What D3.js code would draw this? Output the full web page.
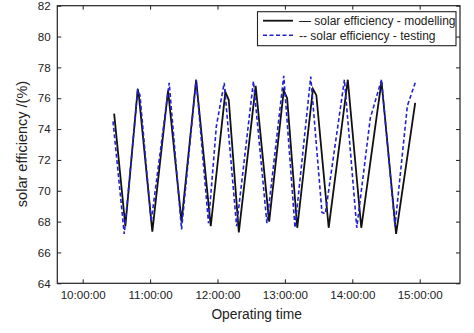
<!DOCTYPE html>
<html>
<head>
<meta charset="utf-8">
<script src="https://cdn.jsdelivr.net/npm/d3@7/dist/d3.min.js"></script>
<style>
  html, body { margin: 0; padding: 0; background: #fff; }
  svg { display: block; font-family: "Liberation Sans", Arial, sans-serif; }
</style>
</head>
<body>
<svg id="chart" width="474" height="333"></svg>
<script>
// Solar efficiency over operating time: model vs. measured
const modelTimes = ["10:28","10:38","10:49","10:50","11:02","11:16","11:28","11:41","11:54","12:07","12:10","12:19","12:34","12:46","12:59","13:02","13:11","13:25","13:28","13:39","13:56","14:08","14:26","14:39","14:56"];
const modelValues = [75.0,67.7,76.6,76.2,67.35,76.5,68.0,77.2,67.7,76.4,75.9,67.3,76.8,68.0,76.5,76.0,67.6,76.6,76.2,67.6,77.2,67.6,77.1,67.2,75.7];

const testTimes = ["10:27","10:37","10:49","10:51","11:01","11:17","11:28","11:41","11:52","11:59","12:06","12:17","12:32","12:44","12:59","13:09","13:23","13:33","13:36","13:53","14:04","14:16","14:26","14:38","14:49","14:56"];
const testValues = [74.5,67.2,76.5,76.2,68.0,77.0,67.5,77.2,67.9,74.2,77.0,67.7,77.1,67.9,77.45,67.6,77.4,68.6,68.5,77.2,67.6,74.7,77.2,67.7,75.5,77.0];

const xTickLabels = ["10:00:00","11:00:00","12:00:00","13:00:00","14:00:00","15:00:00"];
const yTicks = [64,66,68,70,72,74,76,78,80,82];
const xDomain = ["09:37:24","15:35:53"];
const yDomain = [64, 82];

const seriesNames = ["\u2014 solar efficiency - modelling", "-- solar efficiency - testing"];

const parseHM = d3.timeParse("%H:%M");
const parseHMS = d3.timeParse("%H:%M:%S");

const svg = d3.select("#chart");
const margin = {left: 57.3, top: 5.7, right: 474 - 460, bottom: 333 - 283.3};
const W = 474 - margin.left - margin.right;
const H = 333 - margin.top - margin.bottom;

const g = svg.append("g").attr("transform", `translate(${margin.left},${margin.top})`);

const x = d3.scaleTime().domain(xDomain.map(parseHMS)).range([0, W]);
const y = d3.scaleLinear().domain(yDomain).range([H, 0]);

const axisColor = "#222";
const tickFont = "11.6px";

// Bottom axis with inward ticks
const xTickDates = xTickLabels.map(parseHMS);
const fmt = d3.timeFormat("%H:%M:%S");
const xb = g.append("g").attr("transform", `translate(0,${H})`)
  .call(d3.axisBottom(x).tickValues(xTickDates).tickFormat(fmt).tickSize(-4).tickPadding(7.5));
// Top mirrored ticks
const xt = g.append("g")
  .call(d3.axisTop(x).tickValues(xTickDates).tickFormat("").tickSize(-4));
// Left axis
const yl = g.append("g")
  .call(d3.axisLeft(y).tickValues(yTicks).tickFormat(d3.format("d")).tickSize(-4).tickPadding(6.6));
// Right mirrored ticks
const yr = g.append("g").attr("transform", `translate(${W},0)`)
  .call(d3.axisRight(y).tickValues(yTicks).tickFormat("").tickSize(-4));

[xb, xt, yl, yr].forEach(a => {
  a.select(".domain").remove();
  a.selectAll(".tick line").attr("stroke", axisColor).attr("stroke-width", 1);
  a.selectAll(".tick text").attr("fill", axisColor).style("font-size", tickFont)
    .style("font-family", "'Liberation Sans', Arial, sans-serif");
});

// Series lines
const line = d3.line().x(d => x(d.t)).y(d => y(d.v));
const modelData = modelTimes.map((t, i) => ({t: parseHM(t), v: modelValues[i]}));
const testData = testTimes.map((t, i) => ({t: parseHM(t), v: testValues[i]}));

g.append("path").datum(modelData)
  .attr("d", line).attr("fill", "none")
  .attr("stroke", "#111").attr("stroke-width", 1.8).attr("stroke-linejoin", "miter");

g.append("path").datum(testData)
  .attr("d", line).attr("fill", "none")
  .attr("stroke", "#2222d4").attr("stroke-width", 1.6)
  .attr("stroke-dasharray", "4,2.5");

// Plot frame
g.append("rect").attr("x", 0).attr("y", 0).attr("width", W).attr("height", H)
  .attr("fill", "none").attr("stroke", axisColor).attr("stroke-width", 1.2);

// Legend
const lg = svg.append("g");
lg.append("rect").attr("x", 257.5).attr("y", 11.7).attr("width", 198.5).attr("height", 34)
  .attr("fill", "#fff").attr("stroke", axisColor).attr("stroke-width", 1.1);
const legendRows = [
  {name: seriesNames[0], color: "#111", dash: null, w: 1.8, y: 20.7},
  {name: seriesNames[1], color: "#2222d4", dash: "4,2.5", w: 1.6, y: 35.3}
];
legendRows.forEach(r => {
  lg.append("line").attr("x1", 263).attr("x2", 293).attr("y1", r.y).attr("y2", r.y)
    .attr("stroke", r.color).attr("stroke-width", r.w)
    .attr("stroke-dasharray", r.dash);
  lg.append("text").attr("x", 299).attr("y", r.y).attr("dy", "0.35em")
    .attr("fill", axisColor).style("font-size", "12px").text(r.name);
});

// Axis titles
svg.append("text").attr("x", margin.left + W / 2 - 2).attr("y", 314).attr("dy", "0.35em")
  .attr("text-anchor", "middle").attr("fill", axisColor).style("font-size", "13.8px")
  .text("Operating time");
svg.append("text")
  .attr("transform", `translate(21.7,${144}) rotate(-90)`)
  .attr("dy", "0.35em").attr("text-anchor", "middle")
  .attr("fill", axisColor).style("font-size", "14.5px")
  .text("solar efficiency /(%)");
</script>
</body>
</html>
